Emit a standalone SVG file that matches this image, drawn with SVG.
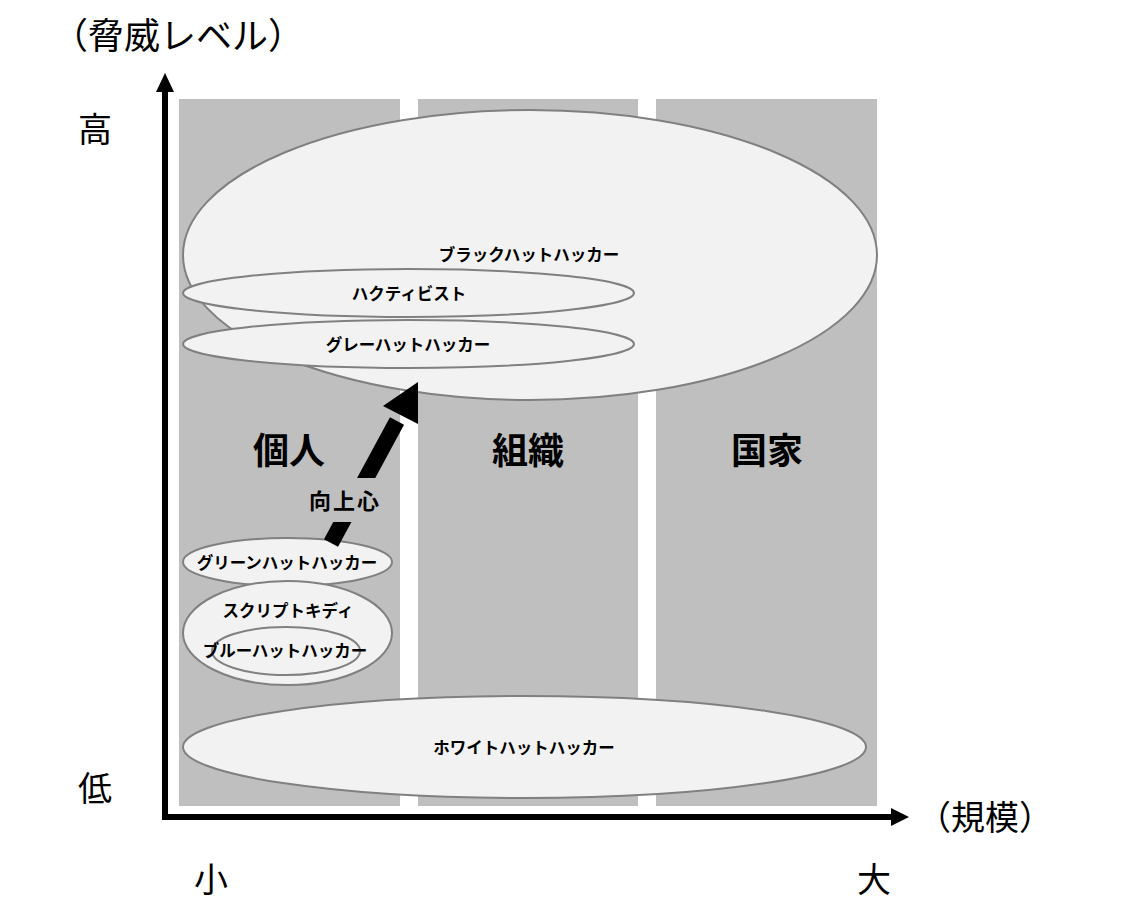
<svg xmlns="http://www.w3.org/2000/svg" width="1132" height="923" viewBox="0 0 1132 923">
<style>
.col{fill:#BFBFBF}
.el{fill:#F2F2F2;stroke:#808080;stroke-width:2}
.ax{font-family:"Noto Sans CJK JP","Noto Sans",sans-serif;font-size:34px;fill:#000}
.big{font-family:"Noto Sans CJK JP","Noto Sans",sans-serif;font-size:36px;font-weight:bold;fill:#000;text-anchor:middle}
.lbl{font-family:"Noto Sans CJK JP","Noto Sans",sans-serif;font-size:16.5px;font-weight:bold;fill:#000;text-anchor:middle}
</style>
<rect width="1132" height="923" fill="#FFFFFF"/>
<g id="columns">
<rect class="col" x="179" y="99" width="221" height="707"/>
<rect class="col" x="418" y="99" width="220" height="707"/>
<rect class="col" x="656" y="99" width="221" height="707"/>
</g>
<g id="column-labels">
<text class="big" x="289" y="464">個人</text>
<text class="big" x="528" y="464">組織</text>
<text class="big" x="767" y="464">国家</text>
</g>
<g id="blackhat">
<ellipse class="el" cx="530" cy="255" rx="347" ry="145"/>
<text class="lbl" x="529" y="261">ブラックハットハッカー</text>
</g>
<g id="hacktivist">
<ellipse class="el" cx="408.5" cy="293" rx="225.5" ry="24"/>
<text class="lbl" x="409" y="300">ハクティビスト</text>
</g>
<g id="grayhat">
<ellipse class="el" cx="408.5" cy="344" rx="225.5" ry="24"/>
<text class="lbl" x="408" y="351">グレーハットハッカー</text>
</g>
<g id="greenhat">
<ellipse class="el" cx="287.5" cy="562" rx="104.5" ry="24"/>
<text class="lbl" x="287" y="569">グリーンハットハッカー</text>
</g>
<g id="scriptkiddie">
<ellipse class="el" cx="287.5" cy="633" rx="104.5" ry="52"/>
<text class="lbl" x="288" y="617">スクリプトキディ</text>
</g>
<g id="bluehat">
<ellipse class="el" cx="286" cy="651" rx="74" ry="24"/>
<text class="lbl" x="285" y="657">ブルーハットハッカー</text>
</g>
<g id="whitehat">
<ellipse class="el" cx="524.5" cy="747" rx="341.5" ry="51"/>
<text class="lbl" x="524" y="754">ホワイトハットハッカー</text>
</g>
<g id="connectors">
<line x1="331" y1="543" x2="397" y2="421" stroke="#000" stroke-width="16"/>
<polygon points="418,382 383,406 418,424" fill="#000"/>
<rect x="300" y="478" width="95" height="44" fill="#BFBFBF"/>
<line x1="165" y1="91" x2="165" y2="820" stroke="#000" stroke-width="6"/>
<polygon points="165,73 156,92 174,92" fill="#000"/>
<line x1="162" y1="817" x2="892" y2="817" stroke="#000" stroke-width="6"/>
<polygon points="909,817 891,808 891,826" fill="#000"/>
</g>
<g id="motivation">
<text x="345" y="509" font-family="Noto Sans CJK JP,Noto Sans,sans-serif" font-size="22" font-weight="bold" letter-spacing="2" text-anchor="middle">向上心</text>
</g>
<g id="axis-labels">
<text class="ax" x="52" y="49" style="font-size:36px">（脅威レベル）</text>
<text class="ax" x="78" y="142">高</text>
<text class="ax" x="78" y="801">低</text>
<text class="ax" x="194" y="892">小</text>
<text class="ax" x="857" y="892">大</text>
<text class="ax" x="917" y="830">（規模）</text>
</g>
</svg>
